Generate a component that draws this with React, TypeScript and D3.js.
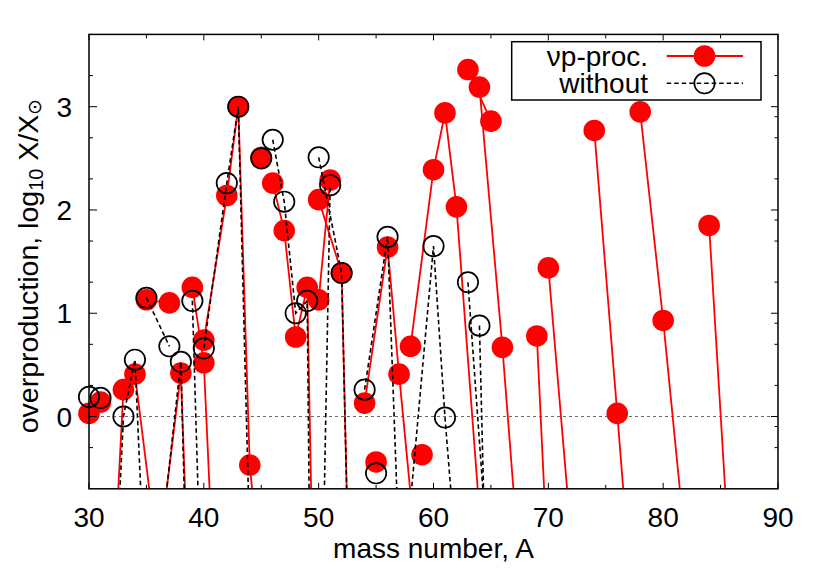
import React from "react";
import * as d3 from "d3";

// one row per element, isotopes of the same element are joined by a line
const elements = ["Si", "P", "S", "Cl", "Ar", "K", "Ca", "Sc", "Ti", "V", "Cr", "Mn", "Fe", "Co", "Ni", "Cu", "Zn", "Ga", "Ge", "Se", "Kr", "Sr"];

const massNumbers = [
  [30],
  [31],
  [32, 33, 34, 36],
  [35, 37],
  [36, 38, 40],
  [39, 40, 41],
  [40, 42, 43, 44, 46, 48],
  [45],
  [46, 47, 48, 49, 50],
  [50, 51],
  [50, 52, 53, 54],
  [55],
  [54, 56, 57, 58],
  [59],
  [58, 60, 61, 62, 64],
  [63, 65],
  [64, 66, 67, 68, 70],
  [69, 71],
  [70, 72, 73, 74, 76],
  [74, 76, 77, 78, 80, 82],
  [78, 80, 82, 83, 84, 86],
  [84, 86, 87, 88],
];

// log10 X/Xsun with the nu-p process
const vpValues = [
  [0.03],
  [0.14],
  [-1.87, 0.26, 0.41, -1.37],
  [1.13, 1.1],
  [-1.4, 0.42, -5.8],
  [1.25, 0.52, -1.92],
  [0.74, 2.14, 3.0, -0.47, -2.77, -3.5],
  [2.51],
  [2.26, 1.8, 0.77, 1.25, -4.45],
  [1.13, 2.29],
  [2.1, 1.39, -3.36, -4.0],
  [-0.44],
  [0.13, 1.64, 0.41, -0.75],
  [-0.37],
  [0.68, 2.39, 2.94, 2.03, -0.92],
  [3.36, 2.86],
  [3.19, 0.67, -0.76, -1.5, -2.5],
  [0.78, -3.9],
  [1.44, -1.18, -2.0, -2.5, -3.5],
  [2.77, 0.03, -1.37, -2.0, -3.0, -4.0],
  [2.95, 0.93, -1.32, -2.0, -2.5, -3.5],
  [1.85, -1.8, -2.5, -3.0],
];

// log10 X/Xsun without it
const withoutValues = [
  [0.19],
  [0.18],
  [-2.33, 0.0, 0.55, -4.45],
  [1.15, 0.68],
  [-1.47, 0.53, -8.0],
  [1.12, -2.6, -5.0],
  [0.66, 2.26, 3.0, -1.25, -3.0, -4.0],
  [2.5],
  [2.68, 2.08, 1.0, 1.12, -10.0],
  [-3.64, 2.24],
  [2.51, 1.39, -3.4, -4.5],
  [-0.55],
  [0.26, 1.74, -1.31, -2.5],
  [-2.0],
  [-0.82, 1.65, -0.01, -1.39, -2.5],
  [1.3, -1.78],
  [0.88, -8.1, -9.0, -9.0, -9.0],
  [-3.0, -4.0],
  [-3.0, -3.0, -3.0, -3.0, -3.0],
  [-3.0, -3.0, -3.0, -3.0, -3.0, -3.0],
  [-3.0, -3.0, -3.0, -3.0, -3.0, -3.0],
  [-3.0, -3.0, -3.0, -3.0],
];

const legendLabels = ["\u03bdp-proc.", "without"];
const xTickValues = [30, 40, 50, 60, 70, 80, 90];
const yTickValues = [0, 1, 2, 3];

const FONT = "'Liberation Sans', Arial, Helvetica, sans-serif";
const W = 830;
const H = 581;
const left = 89, right = 778, top = 34.4, bottom = 488.8;

export default function App() {
  const x = d3.scaleLinear().domain([30, 90]).range([left, right]);
  const y = d3.scaleLinear().domain([-0.7, 3.7]).range([bottom, top]);

  const line = d3
    .line<[number, number]>()
    .x((d) => x(d[0]))
    .y((d) => y(d[1]));

  const series = (vals: number[][]) =>
    elements.map((el, i) => ({
      el,
      pts: massNumbers[i].map((a, j) => [a, vals[i][j]] as [number, number]),
    }));
  const red = series(vpValues);
  const black = series(withoutValues);
  const inRange = (p: [number, number]) => p[1] >= -0.7 && p[1] <= 3.7;

  const xMinor = d3.range(35, 90, 10);
  const yMinorLeft: number[] = [];
  const yMinorRight: number[] = [];
  for (let n = -1; n <= 3; n++) {
    [Math.log10(2), Math.log10(5)].forEach((f) => {
      const v = n + f;
      if (v > -0.69 && v < 3.69) {
        yMinorLeft.push(v);
        yMinorRight.push(v);
      }
    });
    const v8 = n + Math.log10(8);
    if (v8 > -0.69 && v8 < 3.69) yMinorRight.push(v8);
  }

  const r = 10.8;

  return (
    <svg width={W} height={H} style={{ position: "absolute", left: 0, top: 0, background: "#fff" }} fontFamily={FONT}>
      <defs>
        <clipPath id="plotArea">
          <rect x={left} y={top} width={right - left} height={bottom - top} />
        </clipPath>
      </defs>

      {/* zero line */}
      <line x1={left} x2={right} y1={y(0)} y2={y(0)} stroke="#444" strokeWidth={0.8} strokeDasharray="3,3" />

      {/* nu-p process */}
      <g clipPath="url(#plotArea)">
        {red.map((s) => (
          <path key={s.el} d={line(s.pts) || ""} fill="none" stroke="#ff0000" strokeWidth={1.8} />
        ))}
      </g>
      {red.map((s) =>
        s.pts.filter(inRange).map((p, j) => (
          <circle key={s.el + j} cx={x(p[0])} cy={y(p[1])} r={r} fill="#ff0000" />
        ))
      )}

      {/* without */}
      <g clipPath="url(#plotArea)">
        {black.map((s) => (
          <path key={s.el} d={line(s.pts) || ""} fill="none" stroke="#000" strokeWidth={1.6} strokeDasharray="4.5,3" />
        ))}
      </g>
      {black.map((s) =>
        s.pts.filter(inRange).map((p, j) => (
          <circle key={s.el + j} cx={x(p[0])} cy={y(p[1])} r={r - 0.6} fill="none" stroke="#000" strokeWidth={1.7} />
        ))
      )}

      {/* frame and ticks */}
      <rect x={left} y={top} width={right - left} height={bottom - top} fill="none" stroke="#000" strokeWidth={1.5} />
      {xTickValues.map((t) => (
        <g key={"x" + t}>
          <line x1={x(t)} x2={x(t)} y1={bottom} y2={bottom - 6} stroke="#000" strokeWidth={1} />
          <line x1={x(t)} x2={x(t)} y1={top} y2={top + 6} stroke="#000" strokeWidth={1} />
          <text x={x(t)} y={527} fontSize={28} textAnchor="middle">{t}</text>
        </g>
      ))}
      {xMinor.map((t) => (
        <g key={"xm" + t}>
          <line x1={x(t)} x2={x(t)} y1={bottom} y2={bottom - 4} stroke="#000" strokeWidth={1} />
          <line x1={x(t)} x2={x(t)} y1={top} y2={top + 4} stroke="#000" strokeWidth={1} />
        </g>
      ))}
      {yTickValues.map((t) => (
        <g key={"y" + t}>
          <line x1={left} x2={left + 8} y1={y(t)} y2={y(t)} stroke="#000" strokeWidth={1} />
          <line x1={right} x2={right - 7} y1={y(t)} y2={y(t)} stroke="#000" strokeWidth={1} />
          <text x={72} y={y(t) + 10} fontSize={28} textAnchor="end">{t}</text>
        </g>
      ))}
      {yMinorLeft.map((t, i) => (
        <line key={"yl" + i} x1={left} x2={left + 4} y1={y(t)} y2={y(t)} stroke="#000" strokeWidth={1} />
      ))}
      {yMinorRight.map((t, i) => (
        <line key={"yr" + i} x1={right} x2={right - 3.5} y1={y(t)} y2={y(t)} stroke="#000" strokeWidth={1} />
      ))}

      {/* axis titles */}
      <text x={(left + right) / 2} y={558} fontSize={28} textAnchor="middle">mass number, A</text>
      <text transform="translate(38,266) rotate(-90)" fontSize={28.5} textAnchor="middle">
        overproduction, log
        <tspan fontSize={20} dy={5}>10</tspan>
        <tspan dy={-5}> X/X</tspan>
        <tspan fontSize={19} dy={3}>{"\u2299"}</tspan>
      </text>

      {/* legend */}
      <rect x={511.7} y={41.7} width={249.3} height={58.3} fill="none" stroke="#000" strokeWidth={1.5} />
      <text x={648} y={66} fontSize={28} textAnchor="end">{legendLabels[0]}</text>
      <line x1={666.7} x2={743} y1={56} y2={56} stroke="#ff0000" strokeWidth={1.8} />
      <circle cx={704.5} cy={56} r={r} fill="#ff0000" />
      <text x={648} y={93} fontSize={28} textAnchor="end">{legendLabels[1]}</text>
      <line x1={666.7} x2={743} y1={83.3} y2={83.3} stroke="#000" strokeWidth={1.6} strokeDasharray="4.5,3" />
      <circle cx={704.5} cy={83.3} r={r - 0.6} fill="none" stroke="#000" strokeWidth={1.7} />
    </svg>
  );
}
